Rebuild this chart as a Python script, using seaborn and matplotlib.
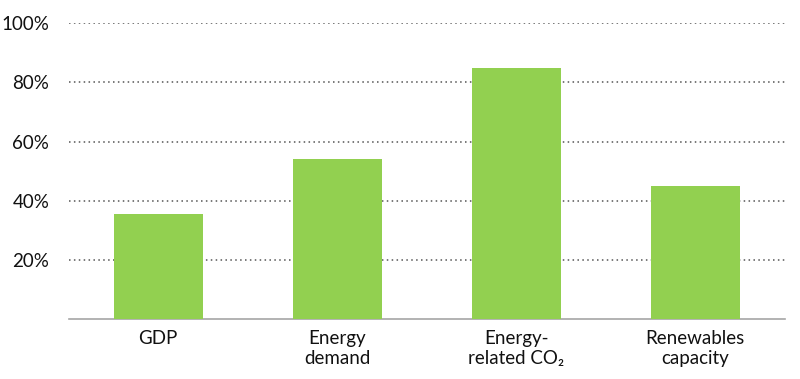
import matplotlib.pyplot as plt
import seaborn as sns
import pandas as pd
from matplotlib.ticker import FuncFormatter

# datos
categorias = ['GDP', 'Energy\ndemand', 'Energy-\nrelated CO\u2082', 'Renewables\ncapacity']
valores = [35.5, 54, 84.7, 45]

df = pd.DataFrame({'cat': categorias, 'val': valores})

sns.set_style('white')
plt.rcParams['font.family'] = ['Lato', 'DejaVu Sans']

fig = plt.figure(figsize=(8, 3.79), dpi=100)
ax = fig.add_axes([0.086, 0.158, 0.895, 0.781])

sns.barplot(data=df, x='cat', y='val', color='#92D050', saturation=1,
            width=0.5, linewidth=0, ax=ax, zorder=3)

ax.set_ylim(0, 100)
ax.set_xlim(-0.5, 3.5)
ax.set_yticks([20, 40, 60, 80, 100])
ax.yaxis.set_major_formatter(FuncFormatter(lambda v, _: f'{v:.0f}%'))
ax.yaxis.grid(True, linestyle=(0, (1, 2.2)), color='#555555', linewidth=1.1)
ax.set_axisbelow(True)

for lado in ['top', 'right', 'left']:
    ax.spines[lado].set_visible(False)
ax.spines['bottom'].set_color('#a6a6a6')
ax.spines['bottom'].set_linewidth(1.2)

ax.tick_params(axis='both', length=0, labelsize=13.5, colors='#111111')
ax.tick_params(axis='y', pad=14)
ax.tick_params(axis='x', pad=8)
ax.set_xlabel('')
ax.set_ylabel('')

fig.savefig('out.png', dpi=100)
